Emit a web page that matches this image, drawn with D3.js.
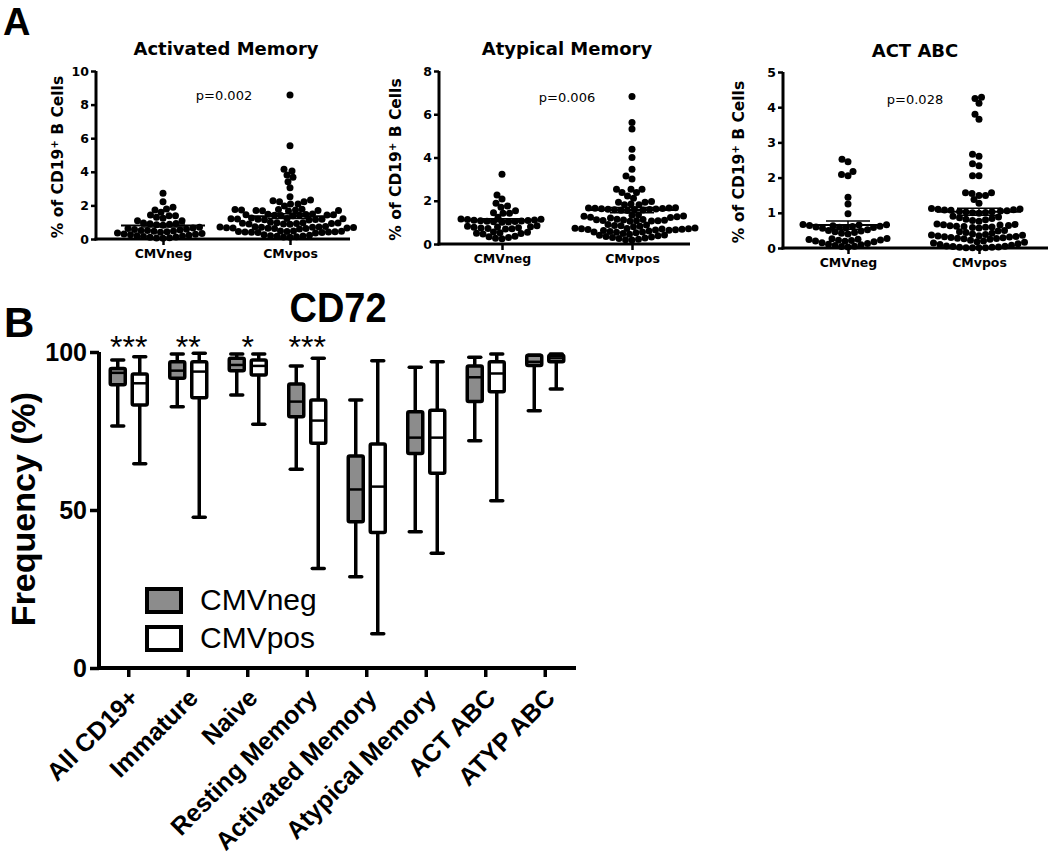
<!DOCTYPE html>
<html>
<head>
<meta charset="utf-8">
<script src="https://cdn.jsdelivr.net/npm/d3@7/dist/d3.min.js"></script>
<style>
  html, body { margin: 0; padding: 0; background: #fff; }
  svg { display: block; }
</style>
</head>
<body>
<svg id="chart" width="1050" height="860"></svg>
<script>
// ---------------- DATA: panel A (scatter) ----------------
const groupNames = ["CMVneg", "CMvpos"];
const panelTitles = ["Activated Memory", "Atypical Memory", "ACT ABC"];
const pValues = ["p=0.002", "p=0.006", "p=0.028"];
const yMaxes = [10, 8, 5];
const yTickSets = [[0, 2, 4, 6, 8, 10], [0, 2, 4, 6, 8], [0, 1, 2, 3, 4, 5]];

const actMemNeg = [2.72, 2.22, 1.89, 1.79, 1.73, 1.59, 1.43, 1.39, 1.39, 1.29, 1.23, 1.09, 1.09,
  0.95, 0.93, 0.91, 0.88, 0.85, 0.82, 0.70, 0.66, 0.62, 0.58, 0.56, 0.53, 0.51, 0.50, 0.48,
  0.46, 0.43, 0.40, 0.36, 0.33, 0.30, 0.28, 0.25, 0.22, 0.20, 0.18, 0.15, 0.12, 0.10, 0.08, 0.06, 0.05];
const actMemPos = [8.57, 5.55, 4.15, 4.05, 3.81, 3.67, 3.41, 3.05, 2.52, 2.32, 2.28, 2.22, 2.22, 2.08, 2.08, 1.96,
  1.77, 1.75, 1.75, 1.73, 1.72, 1.70, 1.70, 1.69, 1.68, 1.66,
  1.49, 1.47, 1.46, 1.45, 1.45, 1.43, 1.42, 1.41, 1.40, 1.38,
  1.25, 1.22, 1.21, 1.20, 1.19, 1.18, 1.18, 1.16, 1.15, 1.13,
  0.99, 0.97, 0.96, 0.95, 0.94, 0.93, 0.92, 0.90, 0.90, 0.88,
  0.75, 0.73, 0.72, 0.71, 0.70, 0.70, 0.68, 0.67, 0.66, 0.65, 0.64, 0.63, 0.62, 0.60,
  0.48, 0.47, 0.46, 0.45, 0.44, 0.43, 0.42, 0.41, 0.40, 0.39, 0.38, 0.36,
  0.25, 0.22, 0.20, 0.18, 0.16, 0.14, 0.12, 0.10];
const atyMemNeg = [3.23, 2.27, 2.08, 1.88, 1.76, 1.70, 1.54, 1.45, 1.42, 1.42, 1.24, 1.03,
  1.16, 1.14, 1.13, 1.11, 1.10, 1.09, 1.08, 1.06, 1.05, 1.04, 1.02, 1.01,
  0.84, 0.82, 0.80, 0.79, 0.77, 0.75, 0.74, 0.72, 0.70, 0.69,
  0.56, 0.54, 0.52, 0.50, 0.48, 0.46,
  0.36, 0.33, 0.30, 0.27, 0.24];
const atyMemPos = [6.82, 5.62, 5.32, 4.38, 4.00, 3.46, 3.15, 3.01, 2.53, 2.53, 2.53, 2.38, 2.38, 2.22, 2.12,
  1.96, 1.93, 1.93, 1.85, 1.81, 1.81,
  1.68, 1.67, 1.66, 1.65, 1.64, 1.63, 1.62, 1.61, 1.60, 1.59, 1.58, 1.57, 1.56, 1.55,
  1.35, 1.33, 1.30, 1.28, 1.26, 1.24, 1.22, 1.20,
  1.14, 1.13, 1.12, 1.11, 1.10, 1.09, 1.08, 1.07, 1.06, 1.05,
  0.90, 0.88, 0.86, 0.84, 0.82, 0.80,
  0.74, 0.73, 0.72, 0.71, 0.70, 0.69, 0.68, 0.67, 0.66, 0.65, 0.64, 0.63,
  0.60, 0.58, 0.56, 0.55, 0.54,
  0.52, 0.48, 0.45, 0.42, 0.40, 0.38, 0.35, 0.32, 0.30, 0.28, 0.25, 0.22, 0.20, 0.18];
const actAbcNeg = [2.52, 2.45, 2.17, 2.09, 2.05, 1.44, 1.25, 0.97,
  0.67, 0.66, 0.65, 0.64, 0.63, 0.62, 0.61, 0.60, 0.59, 0.58, 0.57, 0.56,
  0.52, 0.50, 0.48, 0.46, 0.44, 0.42, 0.40,
  0.27, 0.26, 0.25, 0.24, 0.23, 0.22, 0.21, 0.20, 0.19, 0.18,
  0.15, 0.13, 0.11, 0.09, 0.07, 0.05, 0.04, 0.03];
const actAbcPos = [4.28, 4.25, 4.11, 3.80, 3.66, 2.66, 2.61, 2.39, 2.34, 2.05, 2.05,
  1.57, 1.57, 1.55, 1.49, 1.49, 1.38, 1.27,
  1.12, 1.11, 1.10, 1.09, 1.08, 1.07, 1.06, 1.05, 1.04, 1.03, 1.02, 1.01, 1.00, 0.99,
  0.90, 0.88, 0.86, 0.84, 0.82, 0.80, 0.78, 0.76,
  0.68, 0.67, 0.66, 0.65, 0.64, 0.63, 0.62, 0.61, 0.60, 0.59, 0.58, 0.57,
  0.50, 0.48, 0.46, 0.44, 0.42, 0.40,
  0.38, 0.37, 0.36, 0.35, 0.34, 0.33, 0.32, 0.31, 0.30, 0.29, 0.28, 0.27, 0.26, 0.25,
  0.22, 0.20, 0.18, 0.16, 0.14, 0.12, 0.10, 0.08, 0.06, 0.05, 0.04, 0.03, 0.02, 0.02, 0.01, 0.01, 0.01, 0.01];
// mean and SEM lines: [CMVneg, CMvpos]
const meanValues = [[0.80, 1.36], [1.10, 1.57], [0.65, 1.03]];
const semValues = [[0.09, 0.14], [0.07, 0.12], [0.12, 0.10]];

// ---------------- DATA: panel B (box plots, CD72) ----------------
const boxCategories = ["All CD19+", "Immature", "Naive", "Resting Memory", "Activated Memory",
  "Atypical Memory", "ACT ABC", "ATYP ABC"];
const negMin    = [76.6, 82.7, 86.4, 62.9, 28.9, 43.1, 71.9, 81.4];
const negQ1     = [89.6, 91.7, 94.1, 79.5, 46.3, 67.9, 84.3, 95.7];
const negMedian = [93.4, 94.1, 95.9, 84.3, 56.5, 72.9, 92.0, 96.9];
const negQ3     = [94.8, 96.9, 98.0, 89.9, 67.1, 81.1, 95.6, 99.0];
const negMax    = [97.5, 99.4, 99.4, 95.6, 84.8, 95.2, 98.3, 99.0];
const posMin    = [64.6, 47.7, 77.1, 31.5, 10.8, 36.3, 52.9, 88.3];
const posQ1     = [83.2, 85.5, 92.7, 71.1, 42.9, 61.6, 87.4, 96.9];
const posMedian = [90.1, 93.8, 95.6, 78.3, 57.4, 72.9, 93.2, 98.0];
const posQ3     = [93.0, 96.9, 97.5, 84.8, 70.9, 81.6, 96.9, 99.0];
const posMax    = [98.5, 99.6, 99.4, 98.0, 97.2, 96.9, 99.4, 99.4];
const starLabels = ["***", "**", "*", "***", "", "", "", ""];
const boxYTicks = [0, 50, 100];
const legendLabels = ["CMVneg", "CMVpos"];

// ---------------- DRAWING ----------------
const svg = d3.select("#chart");
svg.append("rect").attr("width", 1050).attr("height", 860).attr("fill", "#fff");

const fontA = "'DejaVu Sans', sans-serif";
const fontB = "'Liberation Sans', Arial, sans-serif";

// panel letter A
svg.append("text").attr("x", 3).attr("y", 35).attr("font-family", fontB)
  .attr("font-weight", "bold").attr("font-size", 38).text("A");

const layoutA = [
  { axisX: 96, right: 350, top: 71, bottom: 239, tNeg: 163, tPos: 290, titleX: 226, titleY: 55, pX: 224, pY: 100, labX: 63 },
  { axisX: 439, right: 690, top: 71, bottom: 244, tNeg: 502, tPos: 632, titleX: 567, titleY: 55, pX: 567, pY: 102, labX: 401 },
  { axisX: 783, right: 1048, top: 72, bottom: 248, tNeg: 848, tPos: 979, titleX: 915, titleY: 57, pX: 915, pY: 104, labX: 744 }
];
const scatterData = [[actMemNeg, actMemPos], [atyMemNeg, atyMemPos], [actAbcNeg, actAbcPos]];
const dotR = 3.5;

function swarm(values, y, cx, r) {
  const minD = 2 * r * 0.9;
  const pts = values.map(v => ({ v, y: y(v) })).sort((a, b) => b.y - a.y);
  const placed = [];
  pts.forEach(p => {
    let best = cx;
    for (let k = 0; k < 400; k++) {
      const off = (k % 2 === 0 ? 1 : -1) * Math.ceil(k / 2) * 0.5;
      const x = cx + off;
      let ok = true;
      for (const q of placed) {
        const dx = q.x - x, dy = q.y - p.y;
        if (dx * dx + dy * dy < minD * minD) { ok = false; break; }
      }
      if (ok) { best = x; break; }
    }
    p.x = best;
    placed.push(p);
  });
  return placed;
}

layoutA.forEach((L, i) => {
  const g = svg.append("g");
  const y = d3.scaleLinear().domain([0, yMaxes[i]]).range([L.bottom, L.top]);
  const x = d3.scalePoint().domain(groupNames).range([L.tNeg, L.tPos]);

  // title
  g.append("text").attr("x", L.titleX).attr("y", L.titleY).attr("text-anchor", "middle")
    .attr("font-family", fontA).attr("font-weight", "bold").attr("font-size", 18)
    .text(panelTitles[i]);
  // p value
  g.append("text").attr("x", L.pX).attr("y", L.pY).attr("text-anchor", "middle")
    .attr("font-family", fontA).attr("font-size", 13).text(pValues[i]);

  // y axis
  const yAxis = d3.axisLeft(y).tickValues(yTickSets[i]).tickSize(5).tickPadding(2).tickFormat(d3.format("d"));
  const ya = g.append("g").attr("transform", `translate(${L.axisX},0)`).call(yAxis);
  ya.select(".domain").attr("stroke-width", 3).attr("d", `M0,${L.top}V${L.bottom + 1.5}`);
  ya.selectAll(".tick line").attr("stroke-width", 2.5);
  ya.selectAll(".tick text").attr("font-family", fontA).attr("font-weight", "bold").attr("font-size", 12.5).attr("fill", "#000");

  // x axis
  const xAxis = d3.axisBottom(x).tickSize(6).tickPadding(4);
  const xa = g.append("g").attr("transform", `translate(0,${L.bottom})`).call(xAxis);
  xa.select(".domain").attr("stroke-width", 3).attr("d", `M${L.axisX - 1.5},0H${L.right}`);
  xa.selectAll(".tick line").attr("stroke-width", 2.5);
  xa.selectAll(".tick text").attr("font-family", fontA).attr("font-weight", "bold").attr("font-size", 12.5).attr("fill", "#000");

  // y label
  const lab = g.append("text").attr("transform", `translate(${L.labX},${(L.top + L.bottom) / 2 + 2}) rotate(-90)`)
    .attr("text-anchor", "middle").attr("font-family", fontA).attr("font-weight", "bold").attr("font-size", 15.5);
  lab.append("tspan").text("% of CD19");
  lab.append("tspan").attr("baseline-shift", "super").attr("font-size", 10).text("+");
  lab.append("tspan").text(" B Cells");

  // dots
  groupNames.forEach((gn, j) => {
    const pts = swarm(scatterData[i][j], y, x(gn), dotR);
    g.append("g").selectAll("circle").data(pts).join("circle")
      .attr("cx", d => d.x).attr("cy", d => d.y).attr("r", dotR).attr("fill", "#000");
    // mean and SEM
    const m = meanValues[i][j], s = semValues[i][j], cx = x(gn);
    g.append("line").attr("x1", cx - 42).attr("x2", cx + 42).attr("y1", y(m)).attr("y2", y(m))
      .attr("stroke", "#000").attr("stroke-width", 2);
    g.append("line").attr("x1", cx).attr("x2", cx).attr("y1", y(m - s)).attr("y2", y(m + s))
      .attr("stroke", "#000").attr("stroke-width", 1.5);
    [m - s, m + s].forEach(v => g.append("line").attr("x1", cx - 22).attr("x2", cx + 22)
      .attr("y1", y(v)).attr("y2", y(v)).attr("stroke", "#000").attr("stroke-width", 1.5));
  });
});

// ---------------- Panel B ----------------
svg.append("text").attr("x", 4).attr("y", 337).attr("font-family", fontB)
  .attr("font-weight", "bold").attr("font-size", 42).text("B");
svg.append("text").attr("x", 338).attr("y", 322).attr("text-anchor", "middle").attr("font-family", fontB)
  .attr("font-weight", "bold").attr("font-size", 42).attr("textLength", 97).attr("lengthAdjust", "spacingAndGlyphs").text("CD72");

const bx = d3.scaleBand().domain(boxCategories).range([99, 575]);
const by = d3.scaleLinear().domain([0, 100]).range([668, 352]);
const gB = svg.append("g");

// axes
const byAxis = d3.axisLeft(by).tickValues(boxYTicks).tickSize(9).tickPadding(3);
const bya = gB.append("g").attr("transform", "translate(99,0)").call(byAxis);
bya.select(".domain").attr("stroke-width", 4).attr("d", "M0,352V670");
bya.selectAll(".tick line").attr("stroke-width", 3.5);
bya.selectAll(".tick text").attr("font-family", fontB).attr("font-weight", "bold").attr("font-size", 25).attr("fill", "#000");

const bxAxis = d3.axisBottom(bx).tickSize(9).tickFormat("");
const bxa = gB.append("g").attr("transform", "translate(0,668)").call(bxAxis);
bxa.select(".domain").attr("stroke-width", 4).attr("d", "M97,0H576");
bxa.selectAll(".tick line").attr("stroke-width", 3.5);

// rotated category labels
gB.append("g").selectAll("text").data(boxCategories).join("text")
  .attr("transform", d => `translate(${bx(d) + bx.bandwidth() / 2 - 1},${687}) rotate(-45)`)
  .attr("text-anchor", "end").attr("dy", "0.7em")
  .attr("font-family", fontB).attr("font-weight", "bold").attr("font-size", 25).text(d => d);

// y label
gB.append("text").attr("transform", "translate(35,509) rotate(-90)").attr("text-anchor", "middle")
  .attr("font-family", fontB).attr("font-weight", "bold").attr("font-size", 34).text("Frequency (%)");

// boxes
const series = [
  { off: -11, fill: "#8c8c8c", min: negMin, q1: negQ1, med: negMedian, q3: negQ3, max: negMax },
  { off: 11, fill: "#ffffff", min: posMin, q1: posQ1, med: posMedian, q3: posQ3, max: posMax }
];
const boxW = 15, capW = 12, sw = 3.5;
series.forEach(S => {
  boxCategories.forEach((c, k) => {
    const cx = bx(c) + bx.bandwidth() / 2 + S.off;
    const g = gB.append("g");
    g.append("line").attr("x1", cx).attr("x2", cx).attr("y1", by(S.min[k])).attr("y2", by(S.max[k]))
      .attr("stroke", "#000").attr("stroke-width", sw);
    [S.min[k], S.max[k]].forEach(v => g.append("line").attr("x1", cx - capW / 2).attr("x2", cx + capW / 2)
      .attr("y1", by(v)).attr("y2", by(v)).attr("stroke", "#000").attr("stroke-width", sw).attr("stroke-linecap", "round"));
    g.append("rect").attr("x", cx - boxW / 2).attr("width", boxW)
      .attr("y", by(S.q3[k])).attr("height", Math.max(by(S.q1[k]) - by(S.q3[k]), 1))
      .attr("fill", S.fill).attr("stroke", "#000").attr("stroke-width", sw).attr("rx", 1.5);
    g.append("line").attr("x1", cx - boxW / 2).attr("x2", cx + boxW / 2)
      .attr("y1", by(S.med[k])).attr("y2", by(S.med[k])).attr("stroke", "#000").attr("stroke-width", 2.5);
  });
});

// significance stars
gB.append("g").selectAll("text").data(boxCategories).join("text")
  .attr("x", d => bx(d) + bx.bandwidth() / 2).attr("y", 358).attr("text-anchor", "middle")
  .attr("font-family", fontB).attr("font-size", 32)
  .text((d, k) => starLabels[k]);

// legend
const legend = gB.append("g");
[["#8c8c8c", 589], ["#ffffff", 627]].forEach(([fill, yy], k) => {
  legend.append("rect").attr("x", 147).attr("y", yy).attr("width", 34).attr("height", 23)
    .attr("fill", fill).attr("stroke", "#000").attr("stroke-width", 4);
  legend.append("text").attr("x", 200).attr("y", yy + 21).attr("font-family", fontB)
    .attr("font-size", 30).text(legendLabels[k]);
});
</script>
</body>
</html>
